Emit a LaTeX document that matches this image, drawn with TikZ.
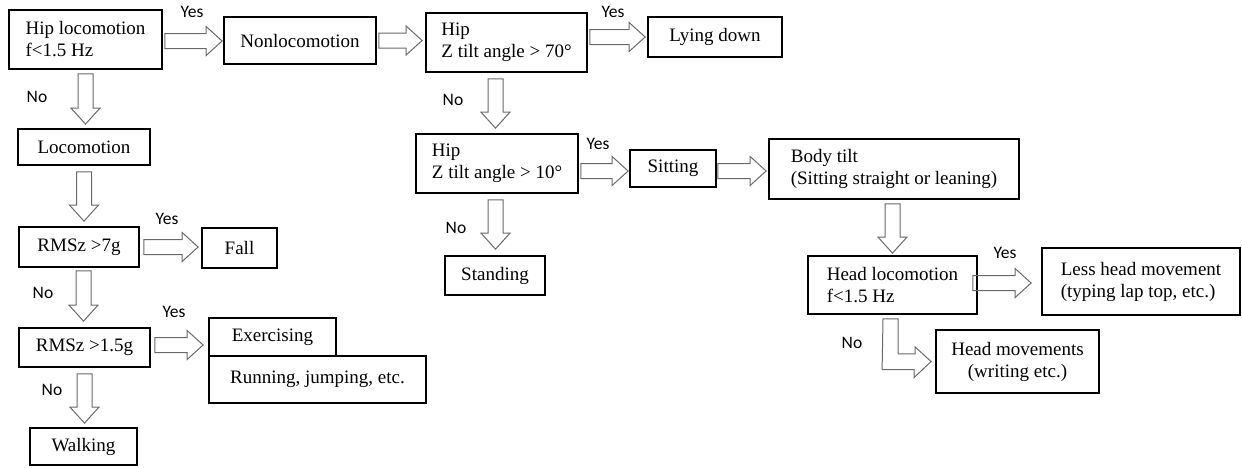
\documentclass[tikz,border=0pt]{standalone}
\usepackage{fontspec}
\setmainfont{Liberation Serif}
\newfontfamily\yesnofont{Carlito}
\usepackage{tikz}
\usepackage{xcolor}
\usetikzlibrary{positioning, calc}
\definecolor{arrowgray}{RGB}{105,105,105}
\tikzstyle{Box} = [
draw,
line width=1.8pt,
inner xsep=12pt,
inner ysep=0pt,
align=left,
font=\fontsize{19}{22}\selectfont]
\tikzstyle{Word} = [
inner sep=0pt,
font=\yesnofont\fontsize{17.5}{20}\selectfont]
\tikzstyle{Block} = [
draw=arrowgray,
line width=1pt,
to path={let \p1=($(\tikztotarget)-(\tikztostart)$),
\n1={veclen(\x1,\y1)}, \n2={atan2(\y1,\x1)} in
($(\tikztostart)+(\n2+90:7.5pt)$) -- ++(\n2:\n1-16pt) -- ++(\n2+90:7pt)
-- (\tikztotarget) -- ($(\tikztotarget)+(\n2+180:16pt)+(\n2-90:14.5pt)$)
-- ++(\n2+90:7pt) -- ++(\n2+180:\n1-16pt) -- cycle}]

\begin{document}
\begin{tikzpicture}[x=1pt, y=-1pt]
    \useasboundingbox (0,0) rectangle (1242,467);

    \node[Box, minimum width=153pt, minimum height=59pt] (1) at (85.5,39.5) {Hip locomotion\\f<1.5 Hz};
    \node[Box, minimum width=152pt, minimum height=47pt] (2) at (300,40.5) {Nonlocomotion};
    \node[Box, minimum width=132pt, minimum height=36pt] (3) at (84,147) {Locomotion};
    \node[Box, minimum width=120pt, minimum height=40pt] (4) at (79,247) {RMSz >7g};
    \node[Box, minimum width=75pt, minimum height=40pt] (5) at (239.5,248) {Fall};
    \node[Box, minimum width=131pt, minimum height=39pt] (6) at (84.5,347.5) {RMSz >1.5g};
    \node[Box, minimum width=127pt, minimum height=38pt] (7) at (272.5,337) {Exercising};
    \node[Box, minimum width=217pt, minimum height=47pt] (8) at (317.5,379.5) {Running, jumping, etc.};
    \node[Box, minimum width=107pt, minimum height=37pt] (9) at (83.5,446.5) {Walking};
    \node[Box, minimum width=161pt, minimum height=59pt] (10) at (506.5,42.5) {Hip\\Z tilt angle > 70°};
    \node[Box, minimum width=134pt, minimum height=40pt] (11) at (715,37) {Lying down};
    \node[Box, minimum width=162pt, minimum height=59pt] (12) at (497,163.5) {Hip\\Z tilt angle > 10°};
    \node[Box, minimum width=86pt, minimum height=37pt] (13) at (673,168.5) {Sitting};
    \node[Box, minimum width=250pt, minimum height=60pt] (14) at (894,169) {Body tilt\\(Sitting straight or leaning)};
    \node[Box, minimum width=100pt, minimum height=39pt] (15) at (495,275.5) {Standing};
    \node[Box, minimum width=169pt, minimum height=58pt] (16) at (892.5,285) {Head locomotion\\f<1.5 Hz};
    \node[Box, minimum width=198pt, minimum height=67pt] (17) at (1141,281.5) {Less head movement\\(typing lap top, etc.)};
    \node[Box, align=center, minimum width=163pt, minimum height=63pt] (18) at (1017.5,361.5) {Head movements\\(writing etc.)};

    \node[Word] (19) at (192,12) {Yes};
    \node[Word] (20) at (37,97) {No};
    \node[Word] (21) at (167,219) {Yes};
    \node[Word] (22) at (43,293) {No};
    \node[Word] (23) at (174,312) {Yes};
    \node[Word] (24) at (52,390) {No};
    \node[Word] (25) at (613,12) {Yes};
    \node[Word] (26) at (453,100) {No};
    \node[Word] (27) at (598,144) {Yes};
    \node[Word] (28) at (456,228) {No};
    \node[Word] (29) at (1005,253) {Yes};
    \node[Word] (30) at (852,343) {No};

    \draw[Block] ($(1.east)+(2,1.5)$) to ($(1.east -| 2.west)+(-1,1.5)$);
    \draw[Block] ($(2.east)+(2,0)$) to ($(2.east -| 10.west)+(-3,0)$);
    \draw[Block] ($(10.east |- 11.west)+(2,0)$) to ($(11.west)+(-2,0)$);
    \draw[Block] ($(12.east |- 13.west)+(2,2.5)$) to ($(13.west)+(-1,2.5)$);
    \draw[Block] ($(13.east)+(1,2.5)$) to ($(13.east -| 14.west)+(-2,2.5)$);
    \draw[Block] ($(16.east)+(-5,-2)$) to ($(16.east -| 17.west)+(-10,-2)$);
    \draw[Block] ($(4.east)+(4,0)$) to ($(4.east -| 5.west)+(-3,0)$);
    \draw[Block] ($(6.east)+(4,-2.5)$) to ($(6.east -| 7.west)+(-5,-2.5)$);
    \draw[Block] ($(1.south)+(0,4)$) to ($(1.south |- 3.north)+(0,-4)$);
    \draw[Block] ($(3.south)+(0,6)$) to ($(3.south |- 4.north)+(0,-5)$);
    \draw[Block] ($(4.south -| 6.north)+(-1,3)$) to ($(6.north)+(-1,-6)$);
    \draw[Block] ($(6.south)+(0,6)$) to ($(6.south |- 9.north)+(0,-4)$);
    \draw[Block] ($(10.south -| 12.north)+(-1.5,6)$) to ($(12.north)+(-1.5,-5)$);
    \draw[Block] ($(12.south -| 15.north)+(0.5,6)$) to ($(15.north)+(0.5,-6)$);
    \draw[Block] ($(14.south -| 16.north)+(0,4)$) to ($(16.north)+(0,-2)$);
    \draw[Block] ($(16.south)+(-9.5,4)$) -- ++(15,0) -- ++(0,35) -- ++(17,0) -- ++(0,-7)
        -- ($(18.west)+(-4,0)$) -- ++(-17,16) -- ++(0,-8) -- ++(-32,0) -- cycle;
\end{tikzpicture}
\end{document}
